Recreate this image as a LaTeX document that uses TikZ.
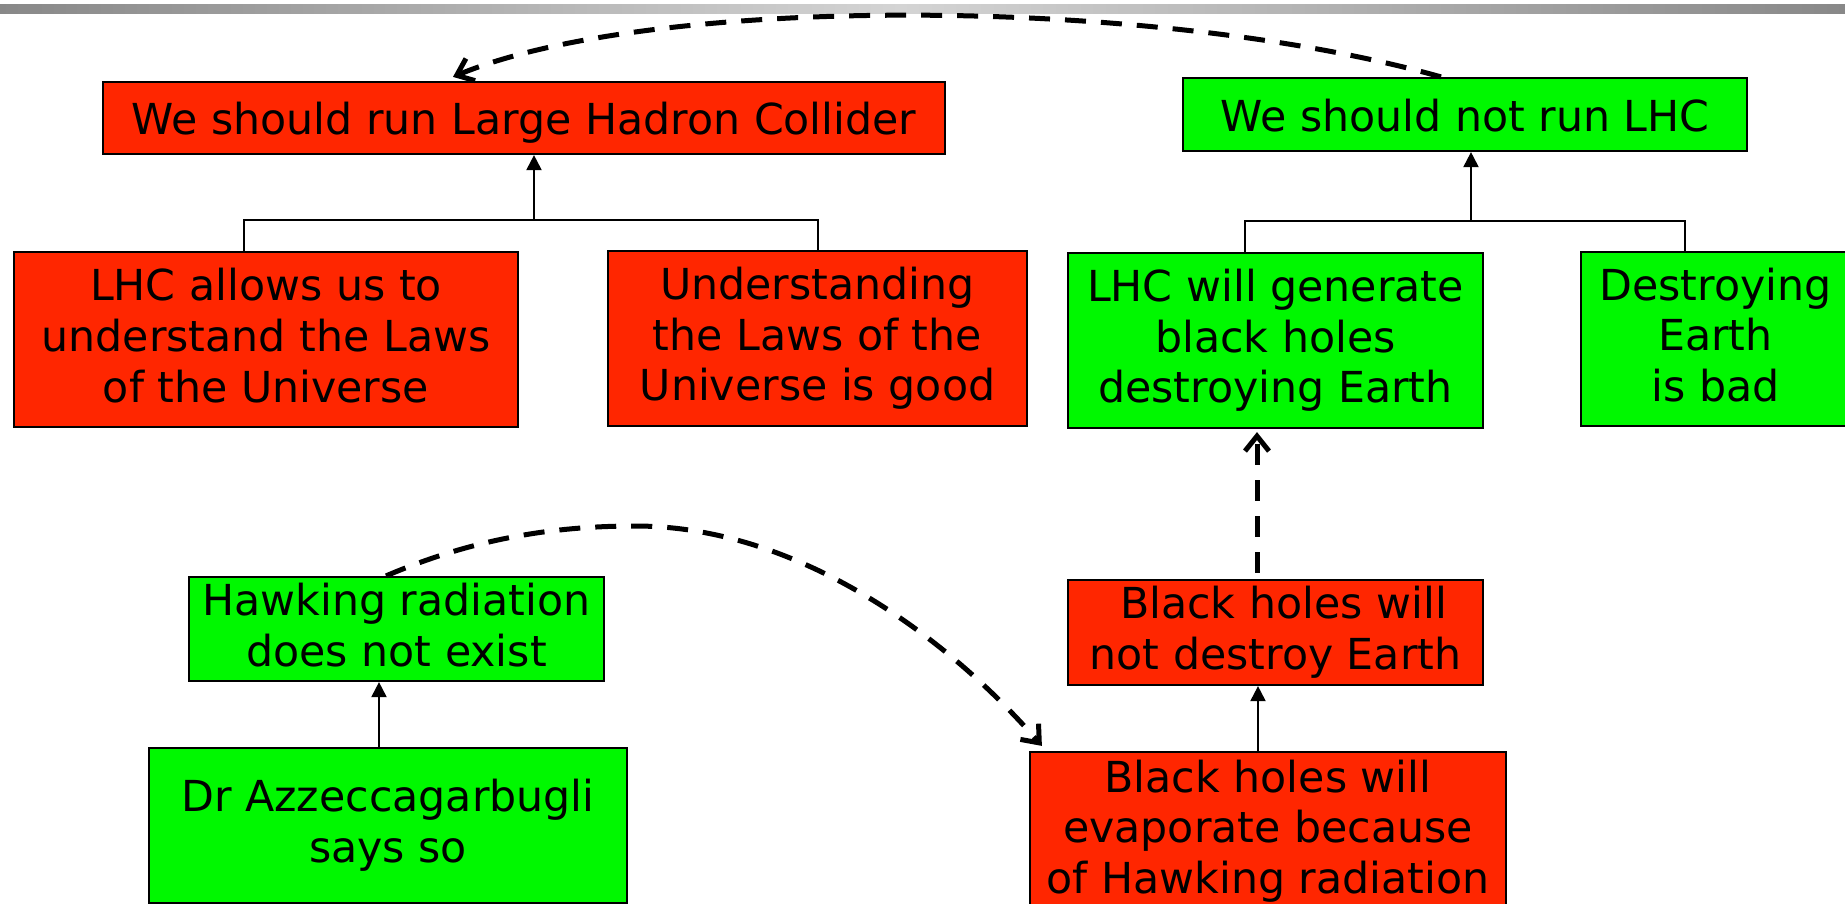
\documentclass[tikz,border=0pt]{standalone}
\usepackage{fontspec}
\setmainfont{DejaVu Sans}
\usetikzlibrary{arrows.meta,calc}

\definecolor{claimred}{RGB}{255,38,0}
\definecolor{claimgreen}{RGB}{0,248,0}
\definecolor{barEdge}{RGB}{136,136,136}
\definecolor{barMid}{RGB}{212,212,212}

% line box of every text line: ascent 42pt, descent 8.6pt
\newcommand\claimStrut{\rule[-8.6pt]{0pt}{50.6pt}}

\tikzset{
  claim/.style={draw=black, line width=2.2pt, inner sep=0pt, align=center,
                font=\fontsize{42.7}{50.6}\selectfont, text=black,
                execute at begin node=\claimStrut,
                execute at end node=\claimStrut},
  pro/.style={claim, fill=claimred},
  con/.style={claim, fill=claimgreen},
  support/.style={line width=2pt, -{Triangle[length=15pt,width=15pt]}},
  joint/.style={line width=2pt},
  attack/.style={line width=5pt, dash pattern=on 21pt off 15pt,
                 -{Straight Barb[length=15pt,width=24pt,line width=5pt]}},
}

\begin{document}
\begin{tikzpicture}[x=1pt,y=-1pt]
\useasboundingbox (0,0) rectangle (1845,904);
\clip (0,0) rectangle (1845,904);

% header rule
\shade[left color=barEdge, right color=barMid] (0,5) rectangle (900,14);
\shade[left color=barMid, right color=barEdge] (900,5) rectangle (1845,14);

% claims
\node[pro, minimum width=842pt, minimum height=72pt] (run) at (524,118)
  {We should run Large Hadron Collider};
\node[con, minimum width=564pt, minimum height=73pt] (notrun) at (1465,114.5)
  {We should not run LHC};
\node[pro, minimum width=504pt, minimum height=175pt] (laws) at (266,339.5)
  {LHC allows us to\\understand the Laws\\of the Universe};
\node[pro, minimum width=419pt, minimum height=175pt] (good) at (817.5,338.5)
  {Understanding\\the Laws of the\\Universe is good};
\node[con, minimum width=415pt, minimum height=175pt] (holes) at (1275.5,340.5)
  {LHC will generate\\black holes\\destroying Earth};
\node[con, minimum width=269pt, minimum height=174pt] (bad) at (1715.5,339)
  {Destroying\\Earth\\is bad};
\node[pro, minimum width=415pt, minimum height=105pt] (safe) at (1275.5,632.5)
  {\hspace*{16pt}Black holes will\\not destroy Earth};
\node[pro, minimum width=476pt, minimum height=158pt] (evap) at (1268,831)
  {Black holes will\\evaporate because\\of Hawking radiation};
\node[con, minimum width=415pt, minimum height=104pt] (hawk) at (396.5,629)
  {Hawking radiation\\does not exist};
\node[con, minimum width=478pt, minimum height=155pt] (azz) at (388,825.5)
  {Dr Azzeccagarbugli\\says so};

% joint support for running the collider
\coordinate (forJoin) at (534,220);
\draw[joint] ([xshift=-22.4pt]laws.north) |- (forJoin) -| (good.north);
\draw[support] (forJoin) -- (run.south -| forJoin);

% joint support against running it
\coordinate (againstJoin) at (1471,221);
\draw[joint] ([xshift=-30.5pt]holes.north) |- (againstJoin) -| ([xshift=-30.5pt]bad.north);
\draw[support] (againstJoin) -- (notrun.south -| againstJoin);

% single supports
\draw[support] ([xshift=-10pt]evap.north) -- ([xshift=-17.5pt]safe.south);
\draw[support] ([xshift=-9pt]azz.north) -- ([xshift=-17.5pt]hawk.south);

% attacks
\draw[attack] ([xshift=-18.5pt,yshift=6pt]safe.north) -- ([xshift=-18.5pt,yshift=-3pt]holes.south);
\draw[attack] ([xshift=-10.5pt]hawk.north)
  .. controls (470,540) and (550,526) .. (635,526)
  .. controls (800,526) and (950,640) .. ([xshift=13pt,yshift=5pt]evap.north west);
\draw[attack] ([xshift=-24pt]notrun.north)
  .. controls (1150,-5) and (650,-5) .. ([xshift=-71pt,yshift=4pt]run.north);
\end{tikzpicture}
\end{document}
